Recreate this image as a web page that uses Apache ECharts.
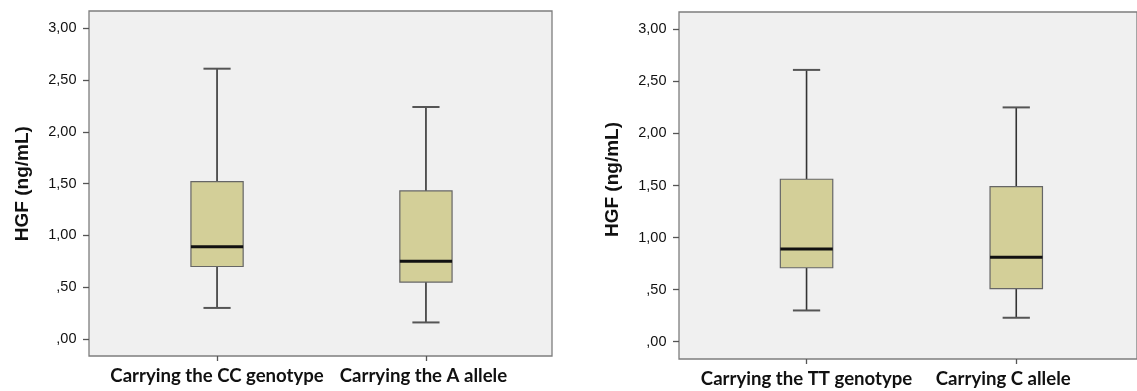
<!DOCTYPE html>
<html>
<head>
<meta charset="utf-8">
<script src="https://cdn.jsdelivr.net/npm/echarts@6/dist/echarts.min.js"></script>
<style>
html,body{margin:0;padding:0;background:#fff;}
#chart{width:1137px;height:391px;}
</style>
</head>
<body>
<div id="chart"></div>
<script>
// ---- data ----
var categoriesLeft = ['Carrying the CC genotype', 'Carrying the A allele'];
var leftMin    = [0.30, 0.16];
var leftQ1     = [0.70, 0.55];
var leftMedian = [0.89, 0.75];
var leftQ3     = [1.52, 1.43];
var leftMax    = [2.61, 2.24];

var categoriesRight = ['Carrying the TT genotype', 'Carrying C allele'];
var rightMin    = [0.30, 0.23];
var rightQ1     = [0.71, 0.51];
var rightMedian = [0.89, 0.81];
var rightQ3     = [1.56, 1.49];
var rightMax    = [2.61, 2.25];

var yTickLabels = [',00', ',50', '1,00', '1,50', '2,00', '2,50', '3,00'];
var yAxisTitle = 'HGF (ng/mL)';

// ---- build ----
function rows(mn, q1, md, q3, mx) {
  return mn.map(function (v, i) { return [i, mn[i], q1[i], md[i], q3[i], mx[i]]; });
}

function renderBox(params, api) {
  var x = api.value(0);
  var pMin = api.coord([x, api.value(1)]);
  var pQ1 = api.coord([x, api.value(2)]);
  var pMd = api.coord([x, api.value(3)]);
  var pQ3 = api.coord([x, api.value(4)]);
  var pMax = api.coord([x, api.value(5)]);
  var band = api.size([1, 0])[0];
  var bw = band * 0.25;
  var cw = bw * 0.52;
  var cx = pMin[0];
  var whisker = {stroke: '#333', lineWidth: 1.6};
  var cap = {stroke: '#555', lineWidth: 2};
  return {
    type: 'group',
    children: [
      {type: 'line', shape: {x1: cx, y1: pQ3[1], x2: cx, y2: pMax[1]}, style: whisker},
      {type: 'line', shape: {x1: cx, y1: pMin[1], x2: cx, y2: pQ1[1]}, style: whisker},
      {type: 'line', shape: {x1: cx - cw / 2, y1: pMax[1], x2: cx + cw / 2, y2: pMax[1]}, style: cap},
      {type: 'line', shape: {x1: cx - cw / 2, y1: pMin[1], x2: cx + cw / 2, y2: pMin[1]}, style: cap},
      {type: 'rect', shape: {x: cx - bw / 2, y: pQ3[1], width: bw, height: pQ1[1] - pQ3[1]},
        style: {fill: '#d3cf98', stroke: '#666', lineWidth: 1.2}},
      {type: 'line', shape: {x1: cx - bw / 2, y1: pMd[1], x2: cx + bw / 2, y2: pMd[1]},
        style: {stroke: '#111', lineWidth: 3}}
    ]
  };
}

var option = {
  backgroundColor: '#ffffff',
  animation: false,
  grid: [],
  xAxis: [],
  yAxis: [],
  series: []
};

function hiddenValue(g) { return {gridIndex: g, type: 'value', show: false, min: 0, max: 1}; }
function hiddenCat(g, cats) { return {gridIndex: g, type: 'category', show: false, data: cats}; }

// L = layout of one panel: frame box and data box
function addPanel(L, cats, data, labelPads) {
  var g0 = option.grid.length;
  // frame
  option.grid.push({left: L.fl, top: L.ft, width: L.fw, height: L.fh, show: true,
    backgroundColor: '#f0f0f0', borderColor: '#7d7d7d', borderWidth: 1.3});
  option.xAxis.push(hiddenValue(g0));
  option.yAxis.push(hiddenValue(g0));
  // y axis grid (at frame's left edge, value range of data)
  option.grid.push({left: L.fl, top: L.dt, width: L.fw, height: L.dh});
  option.xAxis.push(hiddenValue(g0 + 1));
  option.yAxis.push({
    gridIndex: g0 + 1, type: 'value', min: 0, max: 3, interval: 0.5,
    splitLine: {show: false}, axisLine: {show: false},
    axisTick: {show: true, length: 6, lineStyle: {color: '#555', width: 1.3}},
    axisLabel: {
      margin: 12.5, color: '#111', fontFamily: 'Liberation Sans', fontSize: 14.5,
      formatter: function (v) { return yTickLabels[Math.round(v / 0.5)]; }
    },
    name: yAxisTitle, nameLocation: 'middle', nameGap: 57, nameRotate: 90,
    nameTextStyle: {fontFamily: 'Liberation Sans', fontWeight: 'bold', fontSize: 19, color: '#111',
      padding: L.namePad}
  });
  // data grid
  option.grid.push({left: L.dl, top: L.dt, width: L.dw, height: L.dh});
  option.xAxis.push(hiddenCat(g0 + 2, cats));
  option.yAxis.push({gridIndex: g0 + 2, type: 'value', show: false, min: 0, max: 3});
  option.series.push({type: 'custom', xAxisIndex: g0 + 2, yAxisIndex: g0 + 2, renderItem: renderBox,
    encode: {x: 0, y: [1, 2, 3, 4, 5]}, data: data});
  // x axis grid (at frame's bottom edge, category bands of data)
  option.grid.push({left: L.dl, top: L.ft, width: L.dw, height: L.fh});
  option.xAxis.push({
    gridIndex: g0 + 3, type: 'category', boundaryGap: true,
    data: cats.map(function (c, i) { return {value: c, textStyle: {padding: labelPads[i]}}; }),
    axisLine: {show: false},
    axisTick: {show: true, alignWithLabel: true, length: 5, lineStyle: {color: '#555', width: 1.3}},
    axisLabel: {margin: 10, color: '#111', fontFamily: 'Lato', fontWeight: 'bold', fontSize: 18.6, interval: 0}
  });
  option.yAxis.push(hiddenValue(g0 + 3));
}

addPanel({fl: 89, ft: 11, fw: 463, fh: 345, dl: 112.6, dt: 28.3, dw: 417.8, dh: 310.7, namePad: [0, 0, 0, 0]},
  categoriesLeft, rows(leftMin, leftQ1, leftMedian, leftQ3, leftMax), [[0, 0, 0, 0], [0, 5, 0, 0]]);
addPanel({fl: 679, ft: 12, fw: 470, fh: 347, dl: 701.7, dt: 29.3, dw: 419.4, dh: 312.4, namePad: [0, 0, 0, 12]},
  categoriesRight, rows(rightMin, rightQ1, rightMedian, rightQ3, rightMax), [[0, 0, 0, 0], [0, 26, 0, 0]]);

var chart = echarts.init(document.getElementById('chart'), null, {renderer: 'canvas'});
chart.setOption(option);
</script>
</body>
</html>
